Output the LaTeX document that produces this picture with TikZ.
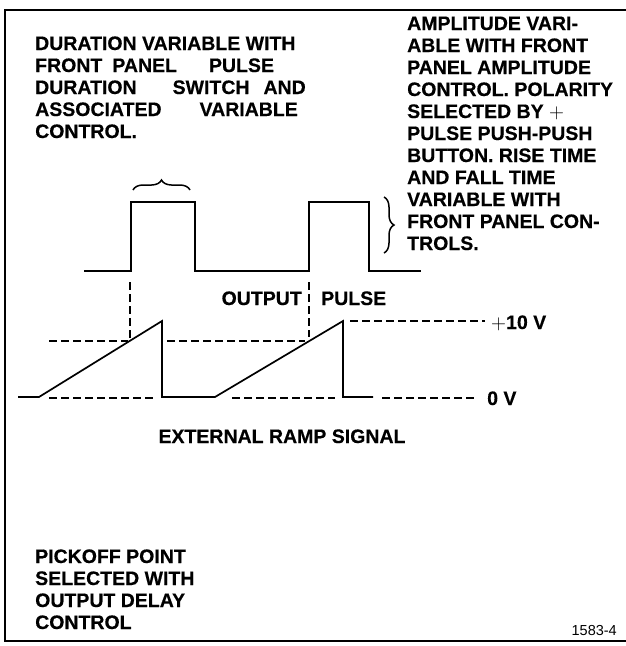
\documentclass[tikz,border=0pt]{standalone}
\usepackage{fontspec}
\setmainfont{Liberation Sans}[BoldFeatures={FakeBold=0.4}]
\usetikzlibrary{decorations.pathreplacing}
\begin{document}
\begin{tikzpicture}[x=1pt,y=-1pt,
  frame/.style={line width=2.5pt},
  sig/.style={line width=1.7pt, line join=miter},
  dsh/.style={line width=1.5pt, dash pattern=on 8pt off 4pt},
  lbl/.style={font=\bfseries\fontsize{19.5}{22}\selectfont, inner sep=0pt, anchor=base west},
  lble/.style={lbl, anchor=base east},
  lblc/.style={lbl, anchor=base},
  tag/.style={font=\fontsize{14.5}{16}\selectfont, inner sep=0pt, anchor=base east},
  brc/.style={line width=1.5pt, decorate, decoration={brace, amplitude=10pt}}]
\useasboundingbox (0,0) rectangle (626,646);
% frame
\draw[frame] (626,10) -- (5,10) -- (5,641) -- (626,641);
% left text
\node[lbl] (l1) at (35,50) {DURATION VARIABLE WITH};
\node[lbl] (l2) at (35,72) {FRONT\hspace{10pt}PANEL\hspace{32pt}PULSE};
\node[lbl] (l3) at (35,94) {DURATION\hspace{36pt}SWITCH\hspace{14pt}AND};
\node[lbl] (l4) at (35,116) {ASSOCIATED\hspace{38pt}VARIABLE};
\node[lbl] (l5) at (35,138) {CONTROL.};
% right text
\node[lbl] (r1) at (407,30) {AMPLITUDE VARI-};
\node[lbl] (r2) at (407,52) {ABLE WITH FRONT};
\node[lbl] (r3) at (407,74) {PANEL AMPLITUDE};
\node[lbl] (r4) at (407,96) {CONTROL. POLARITY};
\node[lbl] (r5) at (407,118) {SELECTED BY {\mdseries$+$}};
\node[lbl] (r6) at (407,140) {PULSE PUSH-PUSH};
\node[lbl] (r7) at (407,162) {BUTTON. RISE TIME};
\node[lbl] (r8) at (407,184) {AND FALL TIME};
\node[lbl] (r9) at (407,206) {VARIABLE WITH};
\node[lbl] (r10) at (407,228) {FRONT PANEL CON-};
\node[lbl] (r11) at (407,250) {TROLS.};
% output pulse
\draw[sig] (84,271) -- (131,271) -- (131,202) -- (195,202) -- (195,271)
  -- (309,271) -- (309,202) -- (369,202) -- (369,271) -- (421,271);
% braces
\draw[brc] (133,190) -- (190,190);
\draw[brc] (384,197) -- (384,253);
% pickoff points
\coordinate (p1) at (130,341);
\coordinate (p2) at (309,337);
\coordinate (p1t) at (130,282);
\coordinate (p2t) at (309,282);
\draw[dsh] (p1t) -- (p1);
\draw[dsh] (p2t) -- (p2);
% ramp
\draw[sig] (18,397) -- (39,397) -- (162,321) -- (162,397) -- (215,397)
  -- (343,321) -- (343,397) -- (373,397);
% dashed levels
\draw[dsh] (49,341) -- (128,341);
\draw[dsh] (167,341) -- (305,341);
\draw[dsh] (49,398) -- (153,398);
\draw[dsh] (232,398) -- (335,398);
\draw[dsh] (382,398) -- (476,398);
\draw[dsh] (350,321) -- (485,321);
% labels
\node[lble] (out) at (302,305) {OUTPUT};
\node[lbl] (pul) at (321,305) {PULSE};
\node[lbl] (ten) at (491,329) {{\mdseries$+$}10 V};
\node[lbl] (zero) at (487,405) {0 V};
\node[lblc] (ext) at (282,443) {EXTERNAL RAMP SIGNAL};
% bottom text
\node[lbl] (b1) at (35,563) {PICKOFF POINT};
\node[lbl] (b2) at (35,585) {SELECTED WITH};
\node[lbl] (b3) at (35,607) {OUTPUT DELAY};
\node[lbl] (b4) at (35,629) {CONTROL};
\node[tag] (fig) at (617,635) {1583-4};
\end{tikzpicture}
\end{document}
